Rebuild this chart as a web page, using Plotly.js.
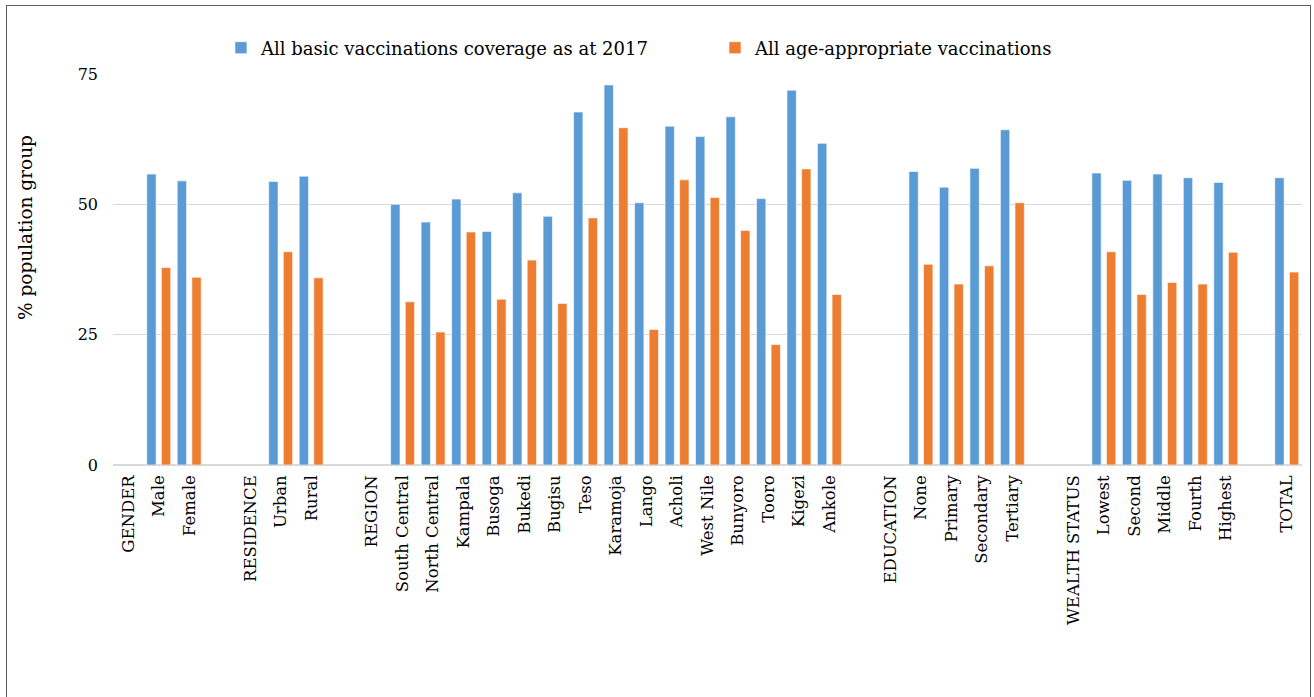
<!DOCTYPE html>
<html>
<head>
<meta charset="utf-8">
<script src="https://cdn.plot.ly/plotly-3.0.1.min.js"></script>
<style>
  html, body { margin: 0; padding: 0; background: #fff; }
  #wrap { position: relative; width: 1314px; height: 697px; }
  #chart { width: 1314px; height: 697px; }
  #frame { position: absolute; left: 6px; top: 5px; width: 1303px; height: 720px;
           border: 1.6px solid #5f5f5f; border-bottom: none; pointer-events: none; }
</style>
</head>
<body>
<div id="wrap">
  <div id="chart"></div>
  <div id="frame"></div>
</div>
<script>
// Categories ('' = spacer slots between groups)
const categories = [
  'GENDER', 'Male', 'Female', '',
  'RESIDENCE', 'Urban', 'Rural', '',
  'REGION', 'South Central', 'North Central', 'Kampala', 'Busoga', 'Bukedi', 'Bugisu',
  'Teso', 'Karamoja', 'Lango', 'Acholi', 'West Nile', 'Bunyoro', 'Tooro', 'Kigezi', 'Ankole', '',
  'EDUCATION', 'None', 'Primary', 'Secondary', 'Tertiary', '',
  'WEALTH STATUS', 'Lowest', 'Second', 'Middle', 'Fourth', 'Highest', '',
  'TOTAL'
];

const basicCoverage = [
  null, 55.8, 54.5, null,
  null, 54.4, 55.4, null,
  null, 50.0, 46.6, 51.0, 44.8, 52.2, 47.7,
  67.7, 72.9, 50.3, 65.0, 63.0, 66.8, 51.1, 71.9, 61.7, null,
  null, 56.3, 53.3, 56.9, 64.3, null,
  null, 56.0, 54.6, 55.8, 55.1, 54.2, null,
  55.1
];

const ageAppropriate = [
  null, 37.9, 36.0, null,
  null, 40.9, 35.9, null,
  null, 31.3, 25.5, 44.7, 31.8, 39.3, 31.0,
  47.4, 64.7, 26.0, 54.7, 51.3, 45.0, 23.1, 56.8, 32.7, null,
  null, 38.5, 34.7, 38.2, 50.3, null,
  null, 40.9, 32.7, 35.0, 34.7, 40.8, null,
  37.0
];

const seriesNames = ['All basic vaccinations coverage as at 2017', 'All age-appropriate vaccinations'];
const yTicks = [0, 25, 50, 75];
const yTitle = '% population group';

const xIdx = categories.map((_, i) => i);
const FONT = 'DejaVu Serif, Liberation Serif, serif';

const traces = [
  {
    type: 'bar', name: seriesNames[0], x: xIdx, y: basicCoverage, legend: 'legend',
    marker: { color: '#5B9BD5', line: { color: '#ffffff', width: 0.6 } },
    hoverinfo: 'skip'
  },
  {
    type: 'bar', name: seriesNames[1], x: xIdx, y: ageAppropriate, legend: 'legend2',
    marker: { color: '#ED7D31', line: { color: '#ffffff', width: 0.6 } },
    hoverinfo: 'skip'
  }
];

const legendCommon = {
  orientation: 'h', xanchor: 'left', y: 1.0665, yanchor: 'middle',
  font: { family: FONT, size: 18, color: '#000' },
  itemwidth: 30, bgcolor: 'rgba(0,0,0,0)'
};

const layout = {
  width: 1314, height: 697,
  margin: { l: 113, r: 12, t: 74, b: 232 },
  paper_bgcolor: '#ffffff', plot_bgcolor: '#ffffff',
  font: { family: FONT, color: '#000000' },
  barmode: 'group',
  bargap: 0.042,
  bargroupgap: 0.36,
  showlegend: true,
  legend: Object.assign({}, legendCommon, { x: 0.0908 }),
  legend2: Object.assign({}, legendCommon, { x: 0.5063 }),
  xaxis: {
    type: 'linear', range: [-0.5, categories.length - 0.5],
    tickmode: 'array', tickvals: xIdx, ticktext: categories,
    tickangle: -90, ticks: '', showgrid: false, zeroline: false,
    showline: false, ticklabelstandoff: 6,
    tickfont: { family: FONT, size: 16.5, color: '#000' }
  },
  yaxis: {
    range: [0, 75], tickmode: 'array', tickvals: yTicks,
    ticks: '', showgrid: true, gridcolor: '#d9d9d9', gridwidth: 1.5,
    zeroline: true, zerolinecolor: '#d9d9d9', zerolinewidth: 1.5,
    showline: false, ticklabelstandoff: 14,
    tickfont: { family: FONT, size: 16, color: '#000' }
  },
  annotations: [
    {
      text: yTitle, xref: 'paper', yref: 'paper', x: 0, y: 0.606,
      xanchor: 'center', yanchor: 'middle', xshift: -88, textangle: -90,
      showarrow: false, font: { family: FONT, size: 18.5, color: '#000' }
    }
  ]
};

Plotly.newPlot('chart', traces, layout, { staticPlot: true, displayModeBar: false });
</script>
</body>
</html>
